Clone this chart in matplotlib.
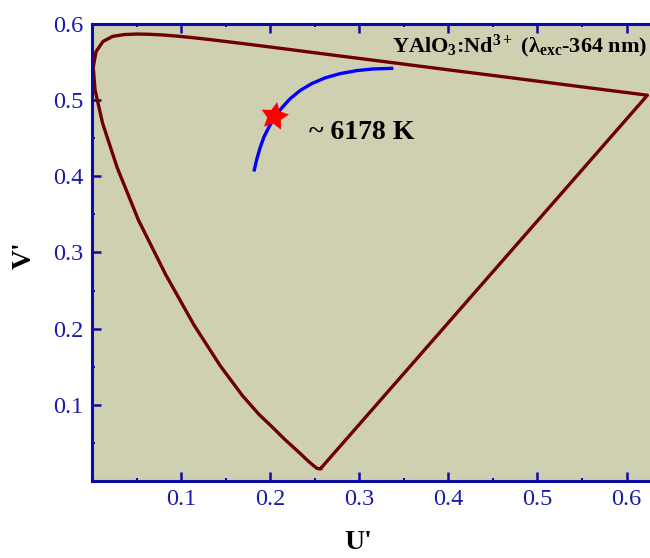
import matplotlib
matplotlib.use("Agg")
import matplotlib.pyplot as plt
from matplotlib.ticker import MultipleLocator

# --- Data ---
# spectral locus (u', v'), 380 nm -> 700 nm
locus_u = [0.2568, 0.2547, 0.2522, 0.2461, 0.2411, 0.2347, 0.2266, 0.2161, 0.2029,
           0.1877, 0.1690, 0.1441, 0.1147, 0.0828, 0.0521, 0.0282, 0.0119, 0.0035,
           0.0014, 0.0046, 0.0123, 0.0231, 0.0360, 0.0501, 0.0643, 0.0792, 0.0953,
           0.1127, 0.1319, 0.1531, 0.1766, 0.2026, 0.2312, 0.2623, 0.2960, 0.3315,
           0.3681, 0.4035, 0.4692, 0.5203, 0.5830, 0.6234]
locus_v = [0.0166, 0.0159, 0.0169, 0.0226, 0.0279, 0.0350, 0.0437, 0.0549, 0.0702,
           0.0871, 0.1119, 0.1510, 0.2044, 0.2708, 0.3427, 0.4117, 0.4698, 0.5131,
           0.5432, 0.5638, 0.5770, 0.5837, 0.5861, 0.5868, 0.5865, 0.5856, 0.5841,
           0.5821, 0.5796, 0.5766, 0.5732, 0.5694, 0.5651, 0.5604, 0.5554, 0.5501,
           0.5446, 0.5393, 0.5296, 0.5219, 0.5125, 0.5065]

# blackbody curve
bb_u = [0.1818, 0.1848, 0.1886, 0.1930, 0.1990, 0.2054, 0.2129, 0.2222, 0.2334,
        0.2466, 0.2615, 0.2783, 0.2971, 0.3157, 0.3382]
bb_v = [0.4064, 0.4218, 0.4372, 0.4516, 0.4656, 0.4779, 0.4898, 0.5016, 0.5125,
        0.5217, 0.5292, 0.5348, 0.5388, 0.5410, 0.5418]

# sample point
pt_u = [0.2046]
pt_v = [0.4796]

cct_label = "~ 6178 K"
title = r"YAlO$_3$:Nd$^{3+}$ (λ$_{exc}$-364 nm)"
xticks = [0.1, 0.2, 0.3, 0.4, 0.5, 0.6]
yticks = [0.1, 0.2, 0.3, 0.4, 0.5, 0.6]

# --- Style ---
plt.rcParams['font.family'] = ['Liberation Serif', 'DejaVu Serif']
plt.rcParams['mathtext.default'] = 'regular'

SPINE = "#0c0ca0"
TICKLBL = "#1a1aa8"
LOCUS = "#6e0000"
BG = "#cfd0b2"

fig = plt.figure(figsize=(6.5, 5.58), dpi=100)
ax = fig.add_axes([0.1415, 0.138, 0.8636, 0.819])
ax.set_facecolor(BG)

ax.plot(locus_u + [locus_u[0]], locus_v + [locus_v[0]], color=LOCUS, lw=2.4,
        solid_joinstyle='round')
ax.plot(bb_u, bb_v, color="#0000ff", lw=2.4, solid_capstyle='butt')
ax.plot(pt_u, pt_v, marker=(5, 1, -10), ms=21, color="#ff0000", mew=0, ls='none')

ax.text(0.2439, 0.449, cct_label, fontsize=20, fontweight='bold', va='baseline', ha='left')
ax.text(0.623, 0.5624, title, fontsize=16, fontweight='bold', va='baseline', ha='right')

ax.set_xlim(0, 0.63)
ax.set_ylim(0, 0.6)
ax.set_xticks(xticks)
ax.set_yticks(yticks)
ax.xaxis.set_minor_locator(MultipleLocator(0.05))
ax.yaxis.set_minor_locator(MultipleLocator(0.05))
ax.tick_params(which='both', direction='in', top=True, right=False, color=SPINE)
ax.tick_params(which='major', length=6.5, width=1.8, labelsize=17.5, labelcolor=TICKLBL, pad=6)
ax.tick_params(which='minor', length=2.5, width=1.5)

for s in ax.spines.values():
    s.set_color(SPINE)
    s.set_linewidth(2.2)

ax.set_xlabel("U'", fontsize=20, fontweight='bold')
ax.set_ylabel("V'", fontsize=20, fontweight='bold')
ax.xaxis.set_label_coords(0.474, -0.108)
ax.yaxis.set_label_coords(-0.099, 0.4945)

fig.savefig("out.png", dpi=100)
